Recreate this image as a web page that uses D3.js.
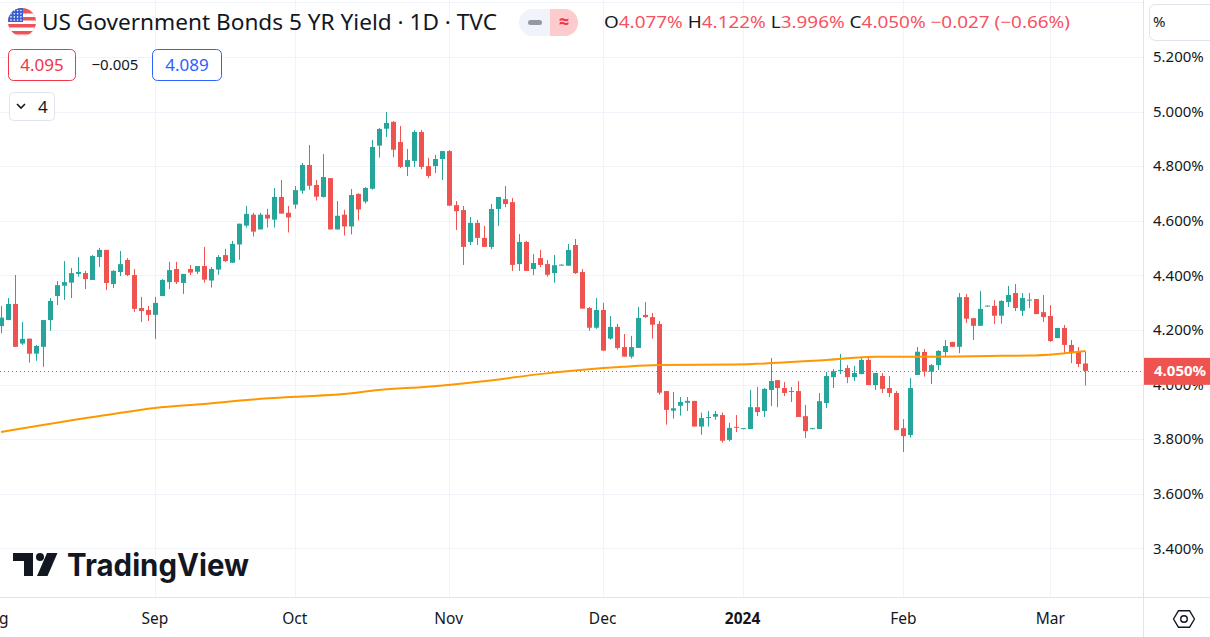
<!DOCTYPE html>
<html>
<head>
<meta charset="utf-8">
<script src="https://cdn.jsdelivr.net/npm/d3@7"></script>
<style>
  html, body { margin: 0; padding: 0; background: #fff; }
  svg { display: block; font-family: "Noto Sans", "Open Sans", sans-serif; }
</style>
</head>
<body>
<svg id="chart" width="1210" height="637"></svg>
<script>
// daily candles, [open, high, low, close] in %, first visible bar is early Aug 2023
const ohlc = [
  [4.214,4.288,4.188,4.245],[4.236,4.317,4.236,4.295],[4.295,4.401,4.138,4.138],[4.150,4.229,4.145,4.167],
  [4.168,4.168,4.080,4.113],[4.113,4.145,4.087,4.141],[4.138,4.236,4.065,4.236],[4.236,4.317,4.197,4.306],
  [4.324,4.379,4.291,4.364],[4.362,4.452,4.310,4.375],[4.373,4.427,4.317,4.408],[4.405,4.467,4.395,4.412],
  [4.408,4.416,4.350,4.386],[4.383,4.474,4.383,4.471],[4.467,4.500,4.430,4.493],[4.493,4.493,4.346,4.372],
  [4.368,4.419,4.353,4.416],[4.412,4.489,4.397,4.441],[4.456,4.463,4.397,4.401],[4.401,4.423,4.266,4.277],
  [4.280,4.321,4.229,4.269],[4.273,4.288,4.233,4.255],[4.255,4.321,4.167,4.299],[4.324,4.386,4.324,4.383],
  [4.375,4.449,4.350,4.419],[4.423,4.449,4.368,4.375],[4.372,4.405,4.332,4.405],[4.423,4.438,4.401,4.410],
  [4.413,4.434,4.405,4.434],[4.434,4.504,4.373,4.384],[4.381,4.430,4.355,4.423],[4.421,4.474,4.402,4.467],
  [4.474,4.497,4.449,4.452],[4.446,4.526,4.446,4.515],[4.513,4.589,4.457,4.589],[4.582,4.654,4.575,4.625],
  [4.622,4.629,4.542,4.560],[4.568,4.629,4.568,4.622],[4.622,4.643,4.575,4.608],[4.604,4.720,4.575,4.687],
  [4.687,4.749,4.626,4.626],[4.629,4.654,4.557,4.612],[4.659,4.727,4.644,4.712],[4.710,4.811,4.699,4.804],
  [4.804,4.877,4.714,4.728],[4.731,4.749,4.674,4.688],[4.687,4.844,4.685,4.760],[4.756,4.756,4.568,4.568],
  [4.568,4.672,4.568,4.618],[4.622,4.640,4.546,4.579],[4.579,4.716,4.550,4.694],[4.698,4.701,4.601,4.641],
  [4.670,4.723,4.663,4.720],[4.717,4.896,4.714,4.870],[4.875,4.940,4.831,4.936],[4.937,4.998,4.907,4.958],
  [4.962,4.965,4.833,4.860],[4.888,4.947,4.793,4.797],[4.797,4.863,4.764,4.822],[4.819,4.932,4.797,4.925],
  [4.925,4.932,4.789,4.797],[4.800,4.830,4.756,4.764],[4.800,4.841,4.775,4.826],[4.826,4.855,4.749,4.855],
  [4.855,4.859,4.655,4.655],[4.657,4.672,4.566,4.635],[4.639,4.654,4.438,4.504],[4.522,4.614,4.511,4.592],
  [4.592,4.603,4.511,4.537],[4.537,4.581,4.504,4.504],[4.504,4.661,4.496,4.643],[4.643,4.687,4.581,4.687],
  [4.679,4.727,4.650,4.661],[4.668,4.683,4.416,4.438],[4.441,4.551,4.416,4.522],[4.522,4.526,4.416,4.416],
  [4.423,4.478,4.401,4.445],[4.463,4.493,4.430,4.438],[4.441,4.456,4.395,4.402],[4.408,4.474,4.373,4.437],
  [4.437,4.440,4.436,4.439],[4.435,4.515,4.435,4.493],[4.511,4.533,4.405,4.408],[4.412,4.423,4.278,4.278],
  [4.280,4.284,4.197,4.208],[4.208,4.317,4.204,4.273],[4.273,4.299,4.124,4.124],[4.168,4.251,4.164,4.211],
  [4.211,4.222,4.128,4.134],[4.137,4.185,4.102,4.102],[4.102,4.178,4.095,4.137],[4.134,4.284,4.134,4.244],
  [4.255,4.302,4.244,4.247],[4.247,4.262,4.168,4.219],[4.222,4.233,3.963,3.970],[3.976,3.976,3.853,3.907],
  [3.904,3.973,3.875,3.913],[3.922,3.954,3.886,3.936],[3.933,3.954,3.903,3.940],[3.940,3.940,3.846,3.846],
  [3.846,3.897,3.816,3.877],[3.879,3.903,3.846,3.881],[3.882,3.903,3.871,3.892],[3.888,3.897,3.787,3.794],
  [3.797,3.860,3.792,3.841],[3.845,3.888,3.826,3.843],[3.838,3.840,3.838,3.840],[3.837,3.980,3.837,3.917],
  [3.917,3.991,3.884,3.899],[3.903,3.987,3.881,3.984],[3.980,4.097,3.921,4.013],[4.016,4.016,3.917,3.987],
  [3.987,4.009,3.958,3.969],[3.974,3.991,3.936,3.976],[3.976,4.013,3.881,3.881],[3.884,3.925,3.804,3.829],
  [3.838,3.840,3.838,3.840],[3.837,3.969,3.837,3.939],[3.932,4.046,3.914,4.031],[4.027,4.057,3.987,4.049],
  [4.049,4.112,4.038,4.053],[4.060,4.071,4.005,4.027],[4.027,4.068,4.013,4.042],[4.038,4.097,4.038,4.090],
  [4.090,4.101,3.998,3.998],[3.998,4.042,3.980,4.042],[4.031,4.042,3.969,3.984],[3.987,4.031,3.954,3.969],
  [3.969,3.976,3.833,3.833],[3.840,3.873,3.753,3.811],[3.815,4.024,3.806,3.987],[4.035,4.137,4.035,4.120],
  [4.119,4.130,4.029,4.047],[4.047,4.075,4.002,4.071],[4.071,4.126,4.053,4.123],[4.119,4.163,4.100,4.141],
  [4.156,4.156,4.138,4.138],[4.138,4.335,4.115,4.320],[4.320,4.331,4.225,4.241],[4.243,4.243,4.163,4.215],
  [4.215,4.342,4.215,4.277],[4.287,4.289,4.287,4.289],[4.288,4.309,4.222,4.252],[4.252,4.309,4.223,4.306],
  [4.302,4.361,4.284,4.328],[4.335,4.368,4.269,4.280],[4.270,4.335,4.251,4.317],[4.309,4.335,4.280,4.311],
  [4.313,4.313,4.258,4.258],[4.265,4.328,4.229,4.247],[4.251,4.291,4.156,4.159],[4.170,4.207,4.170,4.207],
  [4.207,4.218,4.115,4.145],[4.145,4.163,4.078,4.115],[4.119,4.137,4.064,4.075],[4.077,4.122,3.996,4.050]
];

// moving average, read at a few bars
const maBar = [0, 15, 22, 29, 36, 42, 49, 54, 61, 70, 77, 89, 94, 105, 118, 125, 131, 143, 147, 151, 155];
const maVal = [3.826, 3.888, 3.914, 3.929, 3.945, 3.955, 3.965, 3.980, 3.992, 4.015, 4.038, 4.065, 4.071, 4.073, 4.090, 4.102, 4.102, 4.105, 4.106, 4.112, 4.123];

const monthBar = [-1, 22, 42, 64, 86, 106, 129, 150];
const monthLabel = ["Aug", "Sep", "Oct", "Nov", "Dec", "2024", "Feb", "Mar"];
const priceTicks = [3.4, 3.6, 3.8, 4.0, 4.2, 4.4, 4.6, 4.8, 5.0, 5.2, 5.4];

const lastClose = 4.050;
const legend = { o: "4.077%", h: "4.122%", l: "3.996%", c: "4.050%", chg: "−0.027 (−0.66%)" };

const W = 1210, H = 637;
const plotW = 1143, plotH = 597;
const UP = "#26a69a", DOWN = "#ef5350", TEXT = "#131722", GRID = "#f0f3fa", BORDER = "#e0e3eb";

const svg = d3.select("#chart");

const x = d3.scaleLinear().domain([0, 155]).range([1, 1085.3]);
const y = d3.scaleLinear().domain([3.4, 5.2]).range([548.3, 56.9]);

svg.append("defs").append("clipPath").attr("id", "plot-clip")
    .append("rect").attr("width", plotW).attr("height", plotH);

const plot = svg.append("g").attr("clip-path", "url(#plot-clip)");

// grid
plot.append("g").selectAll("line").data(priceTicks).join("line")
    .attr("x1", 0).attr("x2", plotW)
    .attr("y1", d => Math.round(y(d)) + 0.5).attr("y2", d => Math.round(y(d)) + 0.5)
    .attr("stroke", GRID);
plot.append("g").selectAll("line").data(monthBar).join("line")
    .attr("x1", d => Math.round(x(d)) + 0.5).attr("x2", d => Math.round(x(d)) + 0.5)
    .attr("y1", 0).attr("y2", plotH)
    .attr("stroke", GRID);

// current price dotted line
plot.append("line")
    .attr("x1", 0).attr("x2", plotW)
    .attr("y1", Math.round(y(lastClose)) + 0.5).attr("y2", Math.round(y(lastClose)) + 0.5)
    .attr("stroke", DOWN).attr("stroke-width", 1).attr("stroke-dasharray", "1,3");

// candles
const bars = plot.append("g").selectAll("g").data(ohlc).join("g")
    .attr("fill", d => d[3] >= d[0] ? UP : DOWN);
bars.append("rect")
    .attr("x", (d, i) => Math.round(x(i)))
    .attr("width", 1)
    .attr("y", d => y(d[1]))
    .attr("height", d => Math.max(1, y(d[2]) - y(d[1])));
bars.append("rect")
    .attr("x", (d, i) => Math.round(x(i)) - 2)
    .attr("width", 5)
    .attr("y", d => y(Math.max(d[0], d[3])))
    .attr("height", d => Math.max(1, Math.abs(y(d[0]) - y(d[3]))));

// moving average
const maLine = d3.line()
    .x(d => x(d[0]))
    .y(d => y(d[1]))
    .curve(d3.curveMonotoneX);
plot.append("path")
    .datum(maBar.map((b, i) => [b, maVal[i]]))
    .attr("d", maLine)
    .attr("fill", "none")
    .attr("stroke", "#ff9800")
    .attr("stroke-width", 2);

// axis borders
svg.append("line").attr("x1", plotW + 0.5).attr("x2", plotW + 0.5).attr("y1", 0).attr("y2", H).attr("stroke", BORDER);
svg.append("line").attr("x1", 0).attr("x2", W).attr("y1", plotH + 0.5).attr("y2", plotH + 0.5).attr("stroke", BORDER);

// price axis
svg.append("g").selectAll("text").data(priceTicks.filter(d => d <= 5.2)).join("text")
    .attr("x", 1153).attr("y", d => y(d)).attr("dy", "0.35em")
    .attr("font-size", 15).attr("fill", TEXT)
    .text(d => d.toFixed(3) + "%");

// last price label
svg.append("rect").attr("x", plotW + 1).attr("y", y(lastClose) - 13).attr("width", W - plotW).attr("height", 27)
    .attr("fill", DOWN);
svg.append("text").attr("x", 1154).attr("y", y(lastClose)).attr("dy", "0.36em")
    .attr("font-size", 15).attr("font-weight", 700).attr("fill", "#fff")
    .text(lastClose.toFixed(3) + "%");

// time axis
svg.append("g").selectAll("text").data(monthBar).join("text")
    .attr("x", d => x(d)).attr("y", 619).attr("dy", "0.35em")
    .attr("text-anchor", "middle").attr("font-size", 15.5).attr("fill", TEXT)
    .attr("font-weight", (d, i) => monthLabel[i] === "2024" ? 700 : 400)
    .text((d, i) => monthLabel[i]);

// settings hexagon
const hex = svg.append("g").attr("transform", "translate(1184,619)")
    .attr("fill", "none").attr("stroke", TEXT).attr("stroke-width", 1.4);
hex.append("path").attr("d", "M-10.5,0 L-5.5,-8.3 L5.5,-8.3 L10.5,0 L5.5,8.3 L-5.5,8.3 Z").attr("stroke-linejoin", "round");
hex.append("circle").attr("r", 3.3);

// % box top right
svg.append("rect").attr("x", 1149.5).attr("y", 4.5).attr("width", 70).attr("height", 36).attr("rx", 6)
    .attr("fill", "#fff").attr("stroke", BORDER);
svg.append("text").attr("x", 1153).attr("y", 22).attr("dy", "0.35em").attr("font-size", 15).attr("fill", TEXT).text("%");

// header: flag
const flag = svg.append("g");
flag.append("clipPath").attr("id", "flag-clip").append("circle").attr("cx", 22).attr("cy", 22).attr("r", 14);
const fg = flag.append("g").attr("clip-path", "url(#flag-clip)");
fg.append("rect").attr("x", 8).attr("y", 8).attr("width", 28).attr("height", 28).attr("fill", "#f0525c");
[13.5, 20.5, 27.5, 34.5].forEach(s => fg.append("rect").attr("x", 8).attr("y", s).attr("width", 28).attr("height", 3.5).attr("fill", "#fff"));
fg.append("rect").attr("x", 8).attr("y", 8).attr("width", 15).attr("height", 14).attr("fill", "#3b5fd0");
d3.range(4).forEach(r => d3.range(4).forEach(c => {
  fg.append("circle").attr("cx", 11 + c * 3.3).attr("cy", 10.5 + r * 3.2).attr("r", 0.8).attr("fill", "#fff");
}));

svg.append("text").attr("x", 42).attr("y", 22).attr("dy", "0.36em")
    .attr("font-size", 21).attr("fill", TEXT)
    .attr("textLength", 455).attr("lengthAdjust", "spacingAndGlyphs")
    .text("US Government Bonds 5 YR Yield · 1D · TVC");

// header: pill buttons
svg.append("rect").attr("x", 519).attr("y", 9).attr("width", 59).attr("height", 27).attr("rx", 13.5).attr("fill", "#f0f3fa");
svg.append("path").attr("d", "M550,9 H564.5 A13.5,13.5 0 0 1 564.5,36 H550 Z").attr("fill", "#fccbcd");
svg.append("rect").attr("x", 528).attr("y", 20).attr("width", 14).attr("height", 5).attr("rx", 2.5).attr("fill", "#9598a1");
svg.append("text").attr("x", 564).attr("y", 22).attr("dy", "0.36em").attr("text-anchor", "middle")
    .attr("font-size", 18).attr("font-weight", 700).attr("fill", "#f23645").text("≈");

// header: OHLC legend
const leg = svg.append("text").attr("x", 604).attr("y", 22).attr("dy", "0.36em").attr("font-size", 17)
    .attr("textLength", 466).attr("lengthAdjust", "spacingAndGlyphs");
[["O", legend.o], ["H", legend.h], ["L", legend.l], ["C", legend.c]].forEach(([k, v], i) => {
  leg.append("tspan").attr("fill", TEXT).text((i ? " " : "") + k);
  leg.append("tspan").attr("fill", "#f7525f").text(v);
});
leg.append("tspan").attr("fill", "#f7525f").text(" " + legend.chg);

// header: bid / spread / ask
svg.append("rect").attr("x", 8.5).attr("y", 49.5).attr("width", 67).attr("height", 31).attr("rx", 5)
    .attr("fill", "#fff").attr("stroke", "#f23645");
svg.append("text").attr("x", 42).attr("y", 65).attr("dy", "0.36em").attr("text-anchor", "middle")
    .attr("font-size", 17).attr("fill", "#f23645").text("4.095");
svg.append("text").attr("x", 115).attr("y", 65).attr("dy", "0.36em").attr("text-anchor", "middle")
    .attr("font-size", 15).attr("fill", TEXT).text("−0.005");
svg.append("rect").attr("x", 152.5).attr("y", 49.5).attr("width", 69).attr("height", 31).attr("rx", 5)
    .attr("fill", "#fff").attr("stroke", "#2962ff");
svg.append("text").attr("x", 187).attr("y", 65).attr("dy", "0.36em").attr("text-anchor", "middle")
    .attr("font-size", 17).attr("fill", "#2962ff").text("4.089");

// header: collapse indicators button
svg.append("rect").attr("x", 9.5).attr("y", 92.5).attr("width", 45).attr("height", 28).attr("rx", 4)
    .attr("fill", "#fff").attr("stroke", BORDER);
svg.append("path").attr("d", "M17,104 L21,108 L25,104").attr("fill", "none").attr("stroke", TEXT).attr("stroke-width", 1.6);
svg.append("text").attr("x", 38).attr("y", 107).attr("dy", "0.36em").attr("font-size", 17).attr("fill", TEXT).text("4");

// TradingView watermark
const logo = svg.append("g").attr("fill", TEXT);
logo.append("path").attr("d", "M13,553 H33 V576 H24 V561 H13 Z");
logo.append("circle").attr("cx", 40).attr("cy", 557).attr("r", 4);
logo.append("path").attr("d", "M47,553 H57.5 L47.5,576 H37 Z");
logo.append("text").attr("x", 67).attr("y", 576)
    .attr("font-family", "Inter, 'Noto Sans', sans-serif").attr("font-weight", 700).attr("font-size", 31)
    .attr("textLength", 182).attr("lengthAdjust", "spacingAndGlyphs")
    .text("TradingView");
</script>
</body>
</html>
